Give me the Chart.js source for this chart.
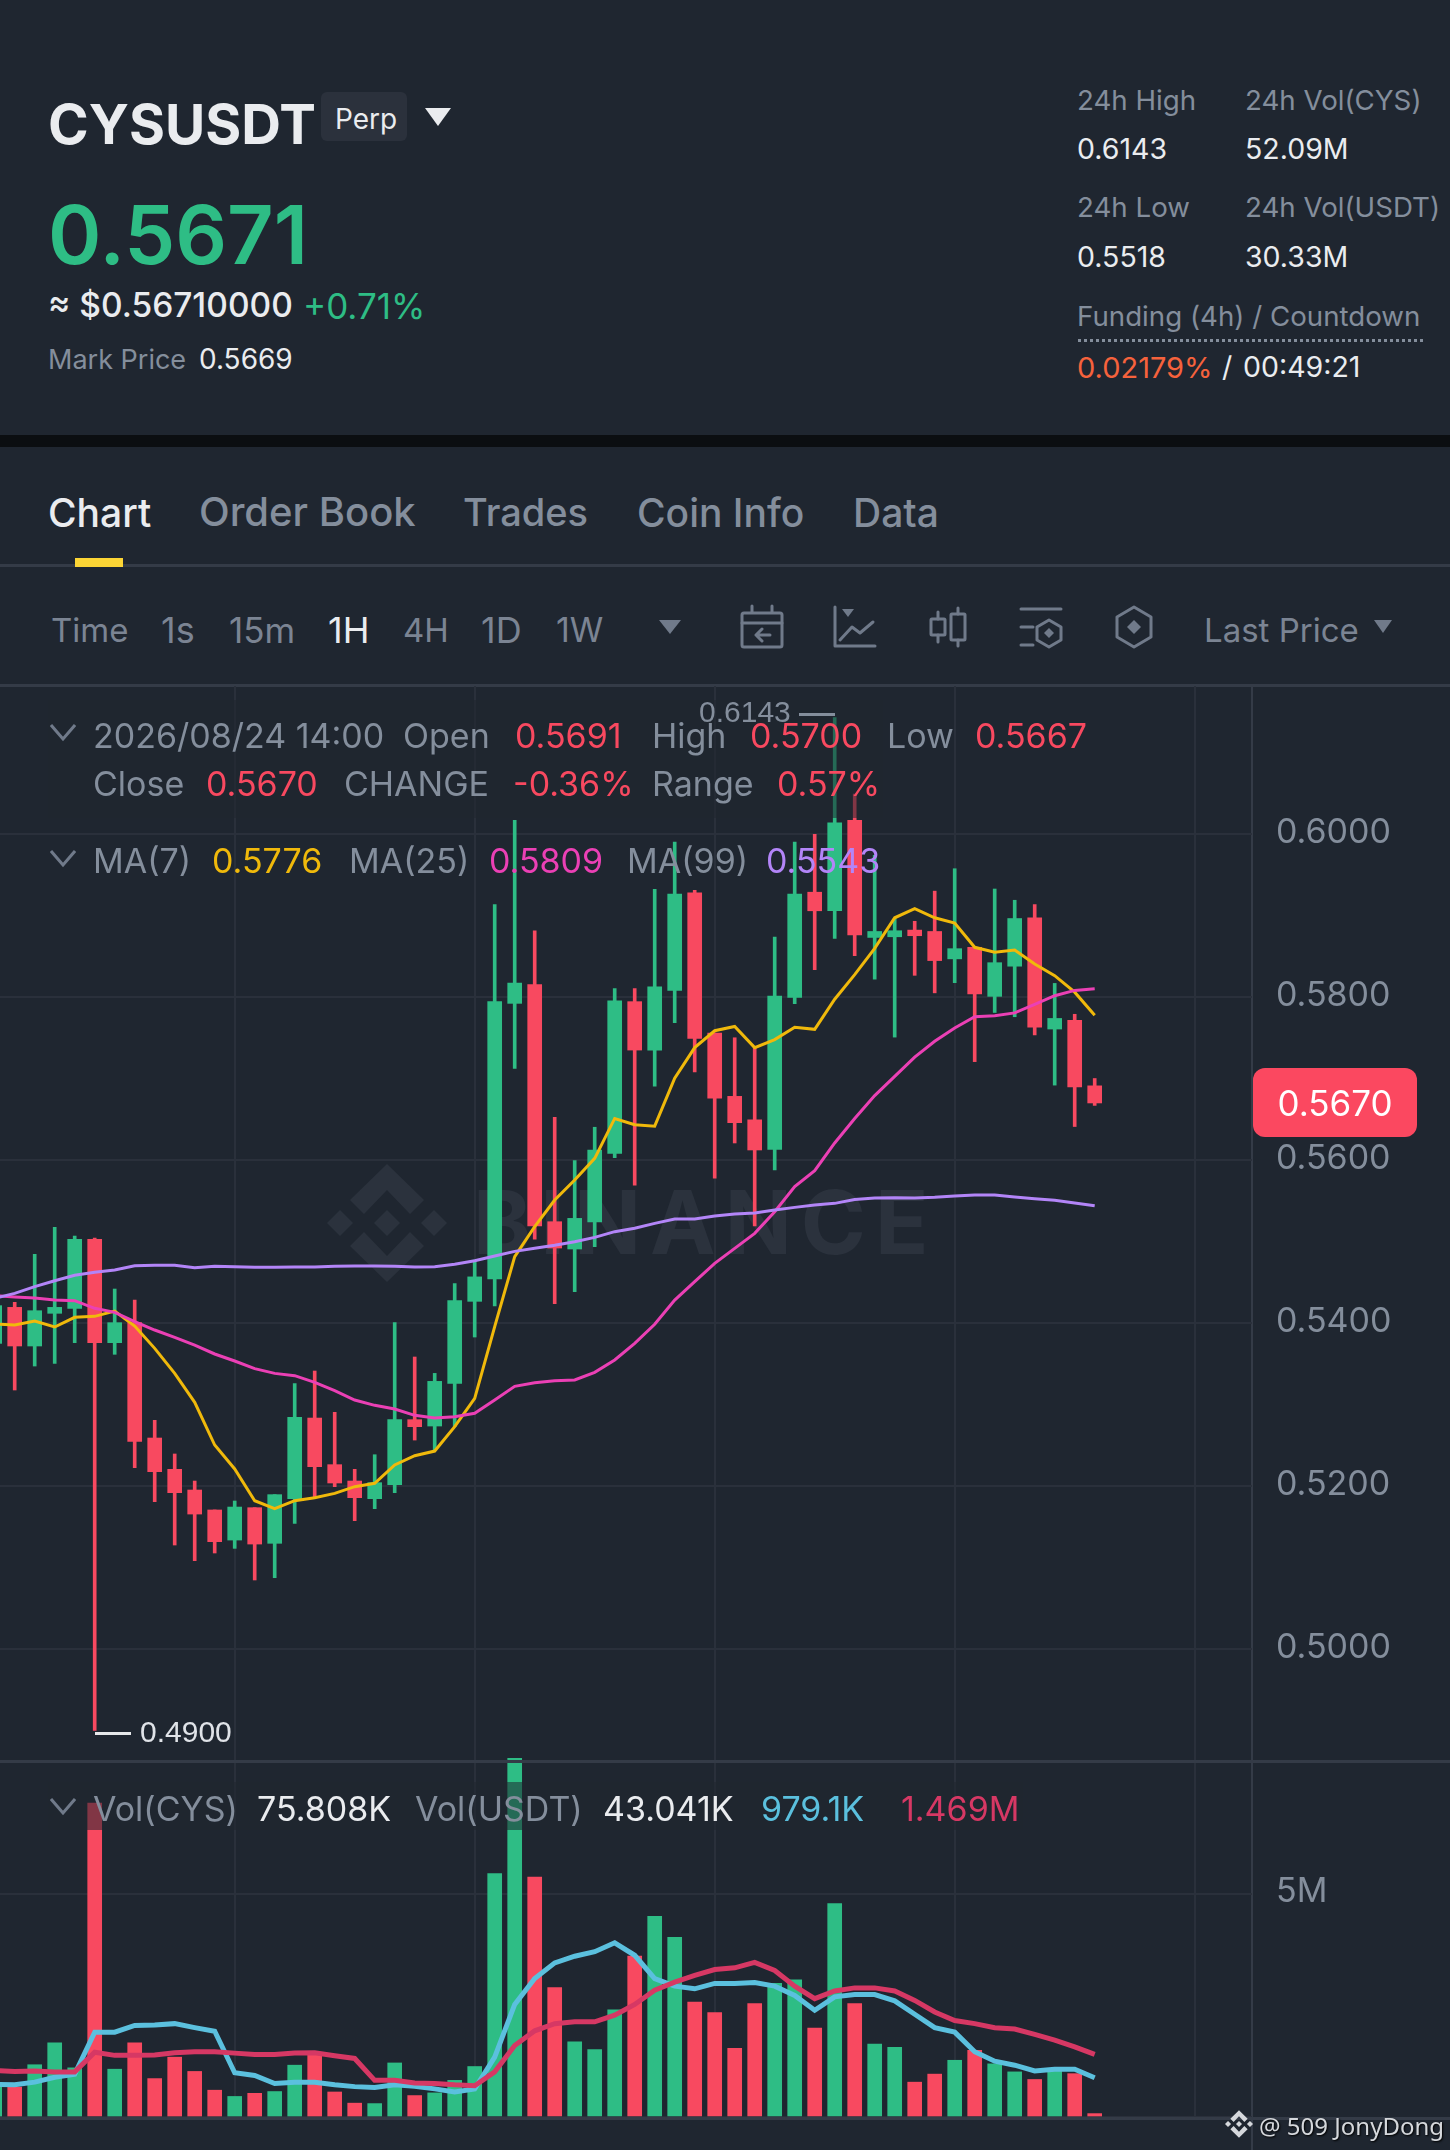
<!DOCTYPE html>
<html>
<head>
<meta charset="utf-8">
<title>CYSUSDT Perp</title>
<script src="https://cdn.jsdelivr.net/npm/chart.js@4/dist/chart.umd.min.js"></script>
<style>
  html, body { margin: 0; padding: 0; background: #1f2630; }
  #page { position: relative; width: 1450px; height: 2150px; overflow: hidden; background: #1f2630; font-family: Inter, "Noto Sans", sans-serif; color: #848e9c; }
  .t { position: absolute; white-space: nowrap; transform: translateY(-50%); line-height: 1; z-index: 3; }
  .line { position: absolute; background: #343b47; }
  .stat { font-size: 27.7px; }
  .val { font-size: 28.5px; }
  .tab { font-size: 39px; font-weight: 500; top: 512px; }
  .tool { font-size: 33px; top: 630px; color: #7b8493; }
  .num { font-size: 36px; }
  .leg { font-size: 34px; }
  .w { color: #eaecef; }
  .r { color: #f84960; }
  canvas { position: absolute; left: 0; z-index: 1; }
  svg { position: absolute; }
</style>
</head>
<body>
<div id="page">
  <!-- header -->
  <div class="t w" style="left:48px;top:124px;font-size:55px;font-weight:700">CYSUSDT</div>
  <div style="position:absolute;left:321px;top:92px;width:86px;height:49px;background:#2b313c;border-radius:6px"></div>
  <div class="t w" style="left:335px;top:119px;font-size:28px">Perp</div>
  <svg style="left:425px;top:108px" width="26" height="18"><polygon points="0,0 26,0 13,18" fill="#eaecef"/></svg>
  <div class="t" style="left:48px;top:235px;font-size:81px;font-weight:600;color:#2ebd85">0.5671</div>
  <div class="t w" style="left:48px;top:306px;font-size:33.5px;font-weight:500">≈ $0.56710000</div>
  <div class="t" style="left:303px;top:306px;font-size:35px;color:#2ebd85">+0.71%</div>
  <div class="t" style="left:48px;top:359px;font-size:27px">Mark Price</div>
  <div class="t w" style="left:199px;top:359px;font-size:28px">0.5669</div>

  <div class="t stat" style="left:1077px;top:101px">24h High</div>
  <div class="t stat" style="left:1245px;top:101px">24h Vol(CYS)</div>
  <div class="t val w" style="left:1077px;top:149px">0.6143</div>
  <div class="t val w" style="left:1245px;top:149px">52.09M</div>
  <div class="t stat" style="left:1077px;top:208px">24h Low</div>
  <div class="t stat" style="left:1245px;top:208px">24h Vol(USDT)</div>
  <div class="t val w" style="left:1077px;top:257px">0.5518</div>
  <div class="t val w" style="left:1245px;top:257px">30.33M</div>
  <div class="t stat" style="left:1077px;top:317px">Funding (4h) / Countdown</div>
  <div style="position:absolute;left:1078px;top:339px;width:345px;border-top:3px dotted #848e9c"></div>
  <div class="t val" style="left:1077px;top:367px;font-size:29px;color:#f6623c">0.02179%</div>
  <div class="t val w" style="left:1222px;top:367px">/</div>
  <div class="t val w" style="left:1243px;top:367px">00:49:21</div>

  <div style="position:absolute;left:0;top:435px;width:1450px;height:12px;background:#0b0e11"></div>

  <!-- tabs -->
  <div class="t tab w" style="left:48px">Chart</div>
  <div class="t tab" style="left:199px;font-size:40px">Order Book</div>
  <div class="t tab" style="left:463px;font-size:38px">Trades</div>
  <div class="t tab" style="left:637px">Coin Info</div>
  <div class="t tab" style="left:853px">Data</div>
  <div class="line" style="left:0;top:564px;width:1450px;height:3px"></div>
  <div style="position:absolute;left:75px;top:558px;width:48px;height:9px;background:#fcd535"></div>

  <!-- toolbar -->
  <div class="t tool" style="left:51px">Time</div>
  <div class="t tool num" style="left:161px">1s</div>
  <div class="t tool" style="left:229px;font-size:35px">15m</div>
  <div class="t tool num w" style="left:328px;color:#eaecef">1H</div>
  <div class="t tool" style="left:403px">4H</div>
  <div class="t tool num" style="left:481px">1D</div>
  <div class="t tool" style="left:556px;font-size:34px">1W</div>
  <svg style="left:659px;top:620px" width="22" height="14"><polygon points="0,0 22,0 11,14" fill="#707a8a"/></svg>
  <svg style="left:720px;top:590px" width="450" height="80" fill="none" stroke="#707a8a" stroke-width="3" stroke-linecap="round" stroke-linejoin="round">
    <rect x="22" y="23" width="40" height="34" rx="2"/>
    <path d="M22 33H62M32 16V22M52 16V22M50 45H36M42 39L36 45L42 51"/>
    <path d="M115 17V56H155M120 50L132 37L140 43L153 32"/>
    <polygon points="122,19 134,19 128,27" fill="#707a8a" stroke="none"/>
    <rect x="211" y="29" width="14" height="16" rx="1"/>
    <rect x="231" y="24" width="14" height="26" rx="1"/>
    <path d="M218 22V29M218 45V52M238 18V24M238 50V56"/>
    <path d="M301 19H341M301 37H313M301 55H313"/>
    <polygon points="329,30 341,37 341,50 329,57 317,50 317,37"/>
    <polygon points="329,38 334,43 329,48 324,43" fill="#707a8a" stroke="none"/>
    <polygon points="414,17 431,27 431,47 414,57 397,47 397,27"/>
    <polygon points="414,30 421,37 414,44 407,37" fill="#707a8a" stroke="none"/>
  </svg>
  <div class="t tool" style="left:1204px">Last Price</div>
  <svg style="left:1374px;top:620px" width="18" height="13"><polygon points="0,0 18,0 9,13" fill="#707a8a"/></svg>

  <div class="line" style="left:0;top:684px;width:1450px;height:3px"></div>
  <div class="line" style="left:0;top:1760px;width:1450px;height:3px;z-index:2"></div>
  <div class="line" style="left:0;top:2117px;width:1450px;height:3px"></div>
  <div class="line" style="left:1251px;top:686px;width:2px;height:1464px"></div>

  <!-- watermark sits behind the canvas -->
  <svg style="left:327px;top:1163px" width="120" height="120" viewBox="-60 -60 120 120" fill="#2b323d">
    <polygon points="0,-59 37,-23 23,-9 0,-33 -23,-9 -37,-23"/>
    <polygon points="0,59 37,23 23,9 0,33 -23,9 -37,23"/>
    <polygon points="0,-13 13,0 0,13 -13,0"/>
    <polygon points="-47,-13 -34,0 -47,13 -60,0"/>
    <polygon points="47,-13 60,0 47,13 34,0"/>
  </svg>
  <div class="t" style="left:473px;top:1222px;font-size:88px;font-weight:700;letter-spacing:9px;color:#2b323d;z-index:0">BINANCE</div>

  <canvas id="priceChart" width="1450" height="1075" style="top:686px"></canvas>
  <canvas id="volChart" width="1450" height="360" style="top:1757px"></canvas>

  <!-- legend, dims the marks below it a little -->
  <div style="position:absolute;left:48px;top:700px;width:835px;height:118px;background:rgba(31,38,48,.55);z-index:2"></div>
  <div style="position:absolute;left:48px;top:1782px;width:975px;height:48px;background:rgba(31,38,48,.55);z-index:2"></div>

  <svg style="left:50px;top:724px;z-index:3" width="26" height="18" fill="none" stroke="#707a8a" stroke-width="3"><path d="M1 1L13 15L25 1"/></svg>
  <div class="t leg" style="left:93px;top:736px">2026/08/24 14:00</div>
  <div class="t leg" style="left:403px;top:736px">Open</div>
  <div class="t leg r" style="left:515px;top:736px">0.5691</div>
  <div class="t leg" style="left:652px;top:736px">High</div>
  <div class="t leg r" style="left:750px;top:736px">0.5700</div>
  <div class="t leg" style="left:887px;top:736px">Low</div>
  <div class="t leg r" style="left:975px;top:736px">0.5667</div>
  <div class="t leg" style="left:93px;top:784px">Close</div>
  <div class="t leg r" style="left:206px;top:784px">0.5670</div>
  <div class="t leg" style="left:344px;top:784px">CHANGE</div>
  <div class="t leg r" style="left:513px;top:784px">-0.36%</div>
  <div class="t leg" style="left:652px;top:784px">Range</div>
  <div class="t leg r" style="left:777px;top:784px">0.57%</div>

  <svg style="left:50px;top:850px;z-index:3" width="26" height="18" fill="none" stroke="#707a8a" stroke-width="3"><path d="M1 1L13 15L25 1"/></svg>
  <div class="t leg" style="left:93px;top:861px">MA(7)</div>
  <div class="t leg" style="left:212px;top:861px;color:#f0b90b">0.5776</div>
  <div class="t leg" style="left:349px;top:861px">MA(25)</div>
  <div class="t leg" style="left:489px;top:861px;color:#eb40b5">0.5809</div>
  <div class="t leg" style="left:627px;top:861px">MA(99)</div>
  <div class="t leg" style="left:766px;top:861px;color:#b385f8">0.5543</div>

  <svg style="left:50px;top:1798px;z-index:3" width="26" height="18" fill="none" stroke="#707a8a" stroke-width="3"><path d="M1 1L13 15L25 1"/></svg>
  <div class="t leg" style="left:93px;top:1809px">Vol(CYS)</div>
  <div class="t leg w" style="left:257px;top:1809px">75.808K</div>
  <div class="t leg" style="left:415px;top:1809px">Vol(USDT)</div>
  <div class="t leg w" style="left:603px;top:1809px">43.041K</div>
  <div class="t leg" style="left:761px;top:1809px;color:#5bc0de">979.1K</div>
  <div class="t leg" style="left:901px;top:1809px;color:#d63864">1.469M</div>

  <!-- high / low markers and last price tag -->
  <div class="t" style="left:699px;top:712px;font:30px 'Liberation Sans';color:#848e9c">0.6143</div>
  <div style="position:absolute;left:799px;top:713px;width:36px;height:3px;background:#848e9c;z-index:3"></div>
  <div style="position:absolute;left:95px;top:1732px;width:36px;height:3px;background:#e6e8ea;z-index:3"></div>
  <div class="t" style="left:140px;top:1732px;font:30px 'Liberation Sans';color:#e0e3e8">0.4900</div>
  <div style="position:absolute;left:1253px;top:1068px;width:164px;height:69px;background:#fb4860;border-radius:12px;z-index:2"></div>
  <div class="t" style="left:1253px;width:164px;text-align:center;top:1103px;font-size:35px;color:#fff">0.5670</div>

  <!-- signature -->
  <svg style="left:1225px;top:2110px;z-index:3" width="28" height="28" viewBox="-60 -60 120 120" fill="#d5d8dc">
    <polygon points="0,-59 37,-23 23,-9 0,-33 -23,-9 -37,-23"/>
    <polygon points="0,59 37,23 23,9 0,33 -23,9 -37,23"/>
    <polygon points="0,-13 13,0 0,13 -13,0"/>
    <polygon points="-47,-13 -34,0 -47,13 -60,0"/>
    <polygon points="47,-13 60,0 47,13 34,0"/>
  </svg>
  <div class="t" style="left:1259px;top:2125px;font:24px 'Noto Sans';color:#d5d8dc;text-shadow:1px 1px 2px #000">@ 509 JonyDong</div>
</div>

<script>
// candles, oldest first
const opens = [0.5375,0.54192,0.53718,0.54119,0.5418,0.55027,0.53759,0.54004,0.52589,0.52205,0.51951,0.51706,0.51337,0.51734,0.51297,0.51845,0.52834,0.52262,0.52061,0.51845,0.52016,0.52814,0.52736,0.5326,0.54266,0.5454,0.57922,0.58154,0.55243,0.54908,0.55239,0.5608,0.57943,0.57349,0.58081,0.59277,0.57556,0.56781,0.56493,0.56131,0.57995,0.59286,0.59058,0.60168,0.58731,0.58739,0.58821,0.58804,0.58468,0.5861,0.58008,0.58378,0.58972,0.57607,0.57715,0.5691];
const highs = [0.544,0.54254,0.54843,0.55174,0.55067,0.55043,0.54417,0.54282,0.52806,0.52393,0.52061,0.51706,0.51816,0.51734,0.51894,0.53256,0.53411,0.52904,0.52205,0.52384,0.54004,0.53583,0.53382,0.54483,0.54773,0.59135,0.60168,0.58813,0.56523,0.55992,0.56402,0.58102,0.58102,0.5932,0.59901,0.59308,0.57556,0.575,0.57392,0.58735,0.59901,0.59996,0.6143,0.60491,0.59738,0.58963,0.58929,0.59299,0.59574,0.5861,0.59325,0.59187,0.59135,0.58167,0.57788,0.57];
const lows = [0.53526,0.53178,0.53472,0.53505,0.53759,0.49,0.53616,0.52225,0.51808,0.51276,0.51084,0.51178,0.51235,0.50847,0.50875,0.51542,0.51869,0.51992,0.51575,0.51722,0.51918,0.52564,0.52442,0.52728,0.53828,0.5421,0.57125,0.5503,0.54237,0.54384,0.54937,0.56028,0.55692,0.56906,0.57685,0.57082,0.55778,0.56209,0.5519,0.55877,0.57917,0.58335,0.58718,0.58507,0.58219,0.57508,0.58266,0.58051,0.58176,0.57207,0.5781,0.57758,0.57534,0.56919,0.56411,0.5667];
const closes = [0.54213,0.53718,0.54151,0.54192,0.55027,0.53759,0.54004,0.52548,0.52176,0.51918,0.51656,0.51317,0.51742,0.51288,0.51894,0.52843,0.52237,0.52037,0.51857,0.52041,0.52814,0.52728,0.53284,0.54274,0.54566,0.57943,0.58171,0.5519,0.5492,0.55284,0.56123,0.57952,0.57349,0.58124,0.59264,0.57491,0.5676,0.56458,0.56123,0.58012,0.59264,0.59058,0.60138,0.58761,0.58804,0.58813,0.58752,0.58447,0.58593,0.58038,0.58421,0.58963,0.57629,0.57737,0.56897,0.567];

// moving averages on price
const ma7 = [0.53988,0.53975,0.54025,0.53951,0.5407,0.54082,0.54147,0.53963,0.53689,0.53382,0.53027,0.52503,0.52209,0.5182,0.51722,0.5182,0.51857,0.5191,0.51992,0.52033,0.52258,0.52372,0.52429,0.52728,0.53076,0.53955,0.54814,0.55182,0.55509,0.55755,0.5602,0.5651,0.56433,0.56415,0.57005,0.57379,0.57586,0.57638,0.57379,0.57478,0.57629,0.57603,0.57973,0.58275,0.58597,0.58972,0.59084,0.58972,0.58907,0.5861,0.5855,0.58576,0.58404,0.58262,0.58059,0.57775];
const ma25 = [0.54335,0.54319,0.54307,0.54282,0.54274,0.5418,0.54131,0.54016,0.53914,0.53824,0.5373,0.5362,0.53534,0.5344,0.53382,0.53354,0.53272,0.5317,0.53055,0.5299,0.52945,0.52867,0.52834,0.52851,0.52892,0.53055,0.53223,0.53268,0.53292,0.53301,0.53395,0.53546,0.53751,0.53984,0.54282,0.54507,0.54732,0.54916,0.551,0.55366,0.55673,0.5587,0.56209,0.5651,0.5679,0.57026,0.57263,0.57457,0.5762,0.57758,0.57771,0.57805,0.57909,0.58016,0.58081,0.58102];
const ma99 = [0.54303,0.54364,0.54446,0.54519,0.54585,0.54622,0.5465,0.54703,0.54708,0.54708,0.54679,0.54695,0.54691,0.54683,0.54683,0.54687,0.54687,0.54695,0.54699,0.54699,0.54695,0.54687,0.54691,0.5472,0.54765,0.54822,0.54879,0.54916,0.54953,0.54998,0.55051,0.55121,0.55162,0.55223,0.55276,0.55276,0.55313,0.55337,0.5535,0.55387,0.55419,0.55447,0.55468,0.55516,0.55533,0.55537,0.55533,0.55542,0.55559,0.55572,0.55572,0.55546,0.55524,0.55507,0.55473,0.55438];

// volume in millions and its two averages
const volumes = [0.67,0.67,1.17,1.66,1.10,7.03,1.07,1.66,0.86,1.34,1.02,0.60,0.46,0.53,0.57,1.16,1.42,0.56,0.31,0.30,1.21,0.48,0.54,0.82,1.13,5.45,8.03,5.37,2.90,1.68,1.51,2.40,3.60,4.49,4.02,2.57,2.34,1.54,2.54,2.99,3.07,1.99,4.78,2.54,1.63,1.56,0.78,0.96,1.27,1.49,1.19,1.01,0.84,1.04,0.97,0.076];
const volMaShort = [0.73,0.72,0.78,0.89,0.96,1.90,1.90,2.05,2.06,2.09,2.00,1.92,0.99,0.93,0.75,0.78,0.78,0.72,0.68,0.66,0.72,0.69,0.63,0.56,0.63,1.34,2.52,3.10,3.45,3.60,3.70,3.90,3.62,3.10,2.93,2.87,2.99,2.99,3.01,2.93,2.72,2.39,2.69,2.74,2.74,2.60,2.30,2.00,1.90,1.46,1.25,1.16,1.03,1.07,1.07,0.88];
const volMaLong = [1.04,1.02,1.03,1.01,1.01,1.45,1.38,1.38,1.39,1.44,1.46,1.46,1.43,1.40,1.40,1.43,1.44,1.37,1.31,0.82,0.82,0.76,0.75,0.72,0.70,1.01,1.60,1.93,2.09,2.13,2.13,2.28,2.52,2.84,3.02,3.17,3.30,3.34,3.46,3.28,2.93,2.65,2.82,2.89,2.89,2.82,2.61,2.35,2.16,2.09,2.00,1.97,1.85,1.72,1.57,1.40];

const GREEN = '#2ebd85';
const RED = '#f84960';
const GRID = '#2a303b';
const LABEL = '#848e9c';

const candleColors = opens.map((o, i) => closes[i] >= o ? GREEN : RED);
const xy = arr => arr.map((v, i) => ({ x: i, y: v }));
const range = (a, b) => a.map((v, i) => ({ x: i, y: [v, b[i]] }));
const maLine = (data, color, width) => ({
  type: 'line', data: xy(data), borderColor: color, borderWidth: width,
  pointRadius: 0, tension: 0, order: 0
});

// same x axis for both panes, candle spacing is 20px
const xAxis = {
  type: 'linear', offset: false, min: 0.265, max: 62.865,
  ticks: { display: false, stepSize: 12, includeBounds: false },
  grid: { color: GRID, lineWidth: 2, drawTicks: false, offset: false },
  border: { display: false },
  afterFit(axis) { axis.height = 0; }
};
const yAxis = (min, max, step, format) => ({
  position: 'right', min: min, max: max, beginAtZero: false,
  ticks: { stepSize: step, includeBounds: false, padding: 24, crossAlign: 'near', labelOffset: -1.5, color: LABEL,
    font: { family: 'Inter', size: 34 }, callback: format },
  grid: { color: GRID, lineWidth: 2, drawTicks: false },
  border: { display: false },
  afterFit(axis) { axis.width = 198; axis.paddingTop = 0; axis.paddingBottom = 0; }
});
const baseOptions = {
  responsive: false, animation: false, events: [],
  layout: { padding: 0 },
  plugins: { legend: { display: false }, tooltip: { enabled: false } }
};

new Chart(document.getElementById('priceChart').getContext('2d'), {
  type: 'bar',
  data: {
    datasets: [
      maLine(ma99, '#b385f8', 3),
      maLine(ma25, '#eb40b5', 3),
      maLine(ma7, '#f0b90b', 3),
      { data: range(opens, closes), backgroundColor: candleColors, barThickness: 14, grouped: false, order: 1 },
      { data: range(lows, highs), backgroundColor: candleColors, barThickness: 3, grouped: false, order: 2 }
    ]
  },
  options: { ...baseOptions, scales: {
    x: xAxis,
    y: yAxis(0.48626, 0.61816, 0.02, v => v.toFixed(4))
  } }
});

new Chart(document.getElementById('volChart').getContext('2d'), {
  type: 'bar',
  data: {
    datasets: [
      maLine(volMaLong, '#d63864', 5),
      maLine(volMaShort, '#5bc0de', 5),
      { data: xy(volumes), backgroundColor: candleColors, barThickness: 14, order: 1 }
    ]
  },
  options: { ...baseOptions, scales: {
    x: xAxis,
    y: yAxis(0, 8.059, 5, v => v === 0 ? '' : v + 'M')
  } }
});
</script>
</body>
</html>
